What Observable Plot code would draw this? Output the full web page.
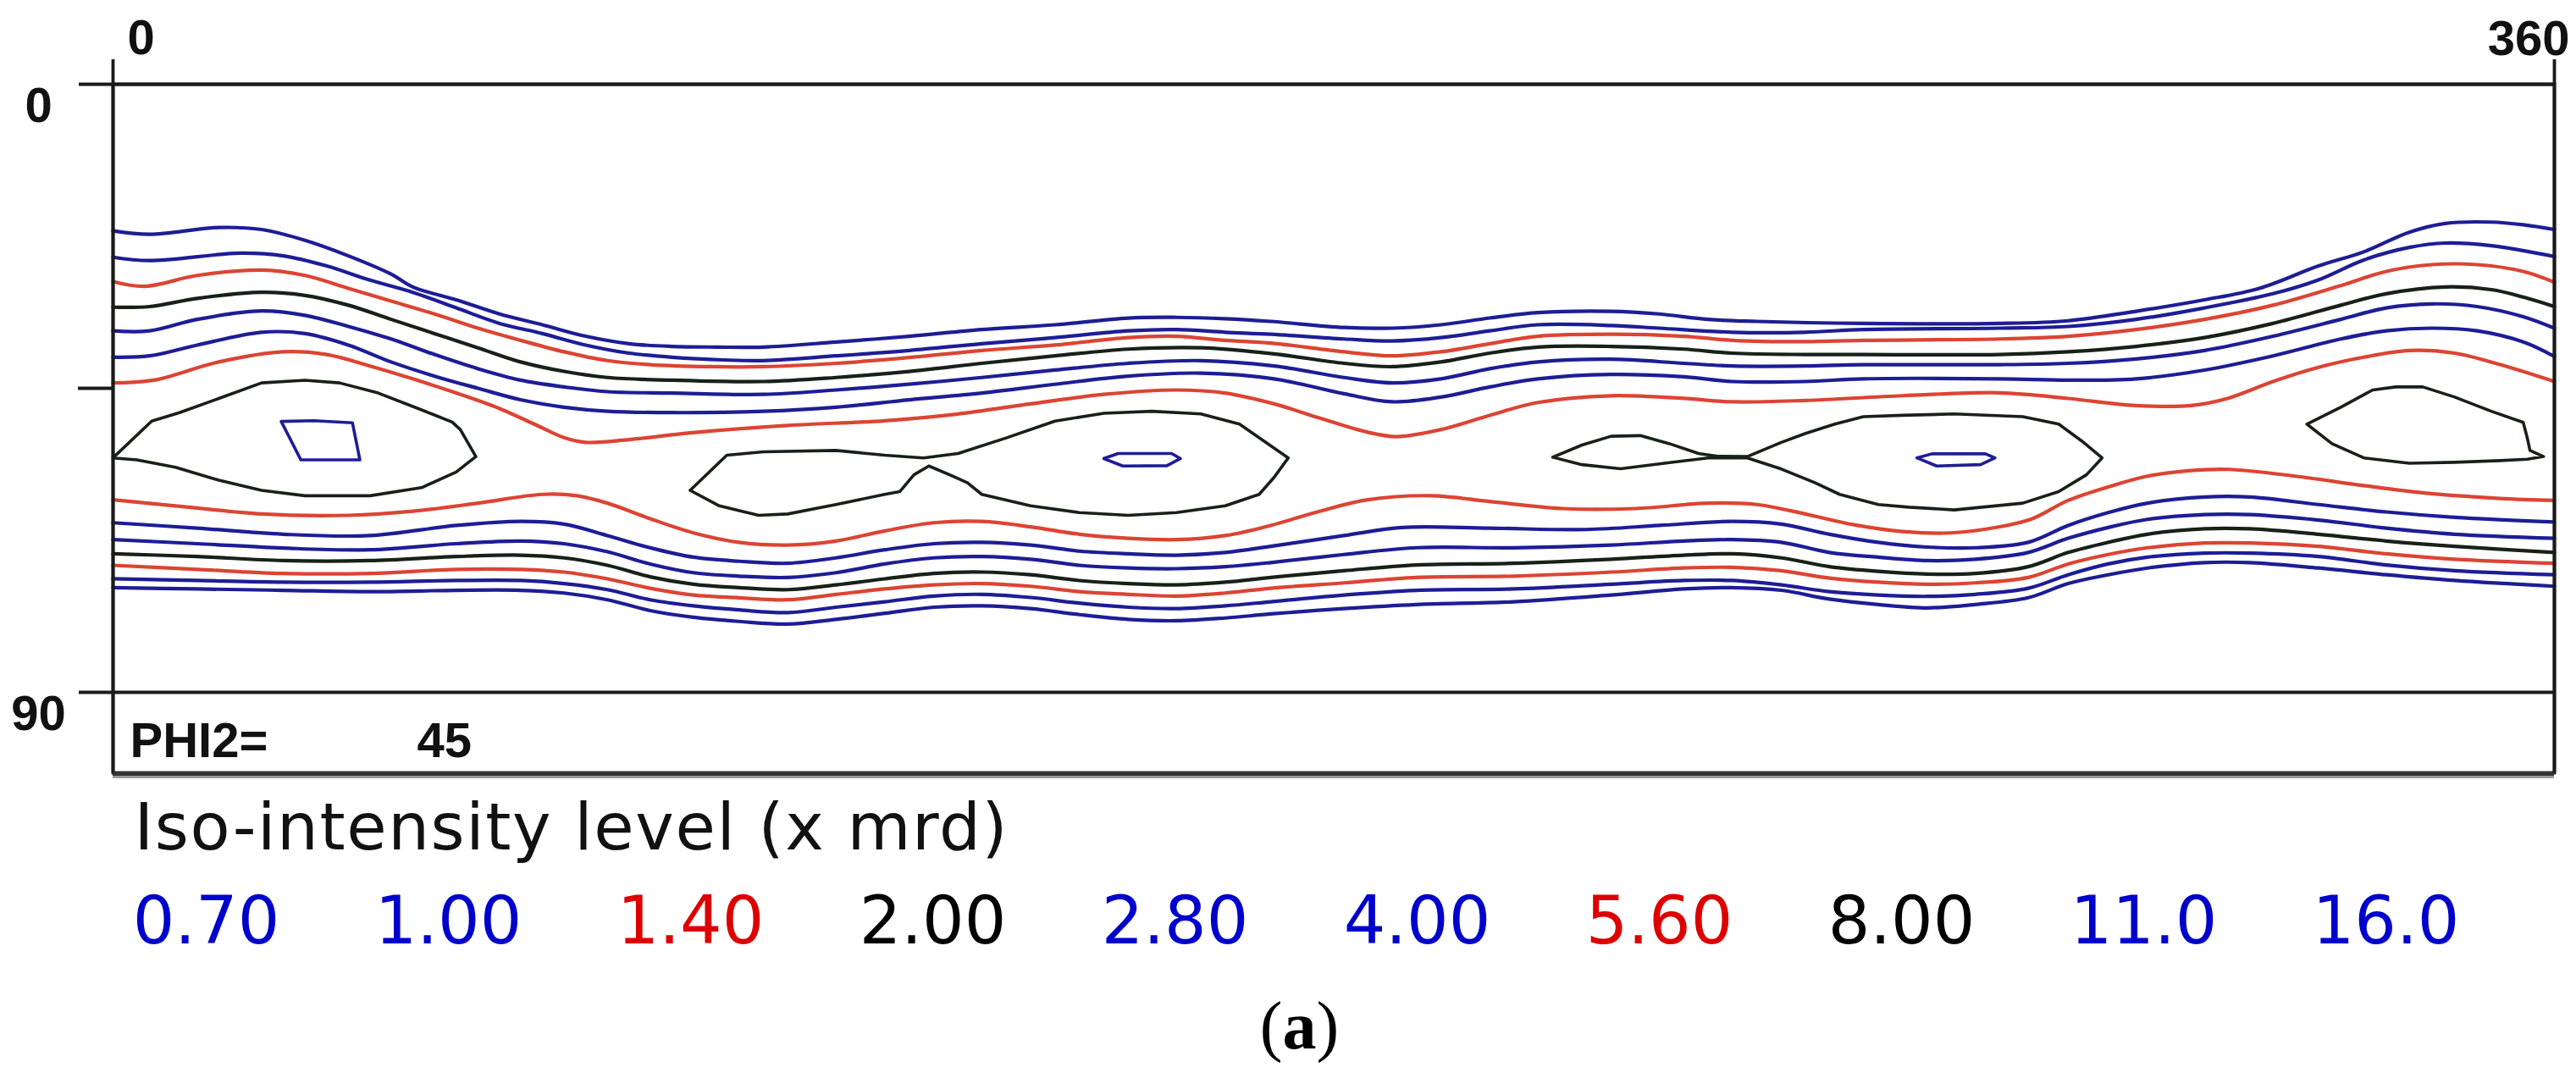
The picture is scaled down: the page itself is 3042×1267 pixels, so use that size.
<!DOCTYPE html>
<html>
<head>
<meta charset="utf-8">
<script src="https://cdn.jsdelivr.net/npm/d3@7"></script>
<script src="https://cdn.jsdelivr.net/npm/@observablehq/plot@0.6"></script>
<style>
  html, body { margin: 0; padding: 0; background: #ffffff; }
  #wrap { width: 3042px; height: 1267px; overflow: hidden; background: #fff; }
  #wrap svg { display: block; }
</style>
</head>
<body>
<div id="wrap"></div>
<script>
// ---------------- DATA ----------------
const levels = ["0.70", "1.00", "1.40", "2.00", "2.80", "4.00", "5.60", "8.00", "11.0", "16.0"];
const xTicks = [0, 360];
const xTickLabels = ["0", "360"];
const yTicks = [0, 45, 90];
const yTickLabels = ["0", "", "90"];
const phi2Label = "PHI2=";
const phi2Value = 45;
const legendTitle = "Iso-intensity level (x mrd)";
const panelLabel = "(a)";

// contour lines: [phi1 (deg), Phi (deg)]
const iso070Upper = [[0,21.7],[5.4,22.2],[15.6,21.2],[21.9,21.5],[28.3,23.1],[34.7,25.4],[41,28.1],[44.2,30.0],[50.6,31.9],[57,34.0],[63.3,35.6],[69.7,37.3],[76.1,38.4],[82.4,38.8],[89,38.9],[95.9,38.9],[106.6,38.15],[117.4,37.3],[128.1,36.3],[138.9,35.6],[149.7,34.6],[156.8,34.5],[164,34.7],[170.7,35.1],[181.5,36.0],[188.6,36.1],[195.8,35.6],[203,34.6],[210.1,33.8],[220.9,33.6],[228,34.0],[235.2,34.8],[242.4,35.1],[258,35.4],[278.2,35.4],[288.3,35.0],[298.3,33.6],[308.4,31.9],[316.5,30.2],[325.2,26.9],[331.9,24.8],[338.6,21.9],[343.9,20.6],[350.7,20.4],[355.4,20.8],[360,21.5]];
const iso100Upper = [[0,25.6],[5.4,26.1],[18.7,25.0],[25.1,25.4],[31.5,26.9],[37.9,29.0],[44.2,30.8],[50.6,33.1],[57,35.4],[63.3,36.9],[69.7,38.6],[76.1,39.8],[82.4,40.4],[90,40.8],[95.9,40.9],[106.6,40.2],[117.4,39.4],[128.1,38.4],[138.9,37.5],[149.7,36.5],[156.8,36.3],[164,36.7],[170.7,37.0],[181.5,37.7],[188.6,38.0],[195.8,37.5],[203,36.5],[210.1,35.6],[220.9,35.7],[228,36.1],[238.8,36.7],[249.5,36.7],[258.1,36.3],[278.2,36.1],[288.3,35.85],[298.3,34.8],[308.4,33.1],[318.5,31.0],[325.2,28.95],[331.9,26.0],[338.6,24.15],[343.9,23.5],[350.7,23.9],[360,25.5]];
const iso140Upper = [[0,29.2],[4.7,29.9],[12.4,28.3],[21.9,27.5],[28.3,28.3],[34.7,30.2],[41,32.1],[47.4,34.0],[53.8,36.1],[60.1,37.9],[66.5,39.6],[72.9,40.9],[79.2,41.5],[88,41.8],[95.9,41.8],[106.6,41.3],[117.4,40.45],[128.1,39.4],[138.9,38.6],[149.7,37.5],[156.8,37.3],[164,37.9],[170.7,38.3],[181.5,39.6],[188.6,40.2],[195.8,39.6],[203,38.4],[210.1,37.3],[220.9,37.0],[231.6,37.3],[238.8,37.9],[249.5,38.1],[258.1,37.9],[278.2,37.7],[288.3,37.3],[298.3,36.3],[308.4,34.8],[318.5,32.7],[328.5,29.8],[335.2,27.7],[341.9,26.7],[348.6,26.7],[355.4,27.7],[360,29.3]];
const iso200Upper = [[0,33.0],[5.4,32.9],[12.4,31.7],[21.9,30.8],[28.3,31.25],[34.7,32.7],[41,34.8],[47.4,36.9],[53.8,39.0],[60.1,41.1],[66.5,42.5],[72.9,43.4],[82.4,43.8],[95.9,44.0],[106.6,43.4],[117.4,42.5],[128.1,41.3],[138.9,40.2],[149.7,39.2],[160.4,39.0],[171.2,39.9],[181.5,41.3],[188.6,41.8],[195.8,41.1],[203,39.8],[210.1,38.9],[220.9,38.8],[231.6,39.2],[238.8,39.8],[249.5,40.0],[258.1,40.0],[278.2,40.0],[288.3,39.6],[298.3,38.8],[308.4,37.5],[318.5,35.4],[328.5,32.7],[335.2,31.0],[343.9,30.0],[350.7,30.4],[355.4,31.5],[360,32.9]];
const iso280Upper = [[0,36.5],[5.4,36.5],[12.4,34.8],[21.9,33.55],[28.3,34.2],[34.7,35.85],[41,37.7],[47.4,40.0],[53.8,42.1],[60.1,43.8],[66.5,44.8],[72.9,45.5],[82.4,45.7],[95.9,45.9],[106.6,45.25],[117.4,44.4],[128.1,43.4],[138.9,42.3],[149.7,41.3],[160.4,40.9],[171.2,41.7],[181.5,43.4],[188.6,44.2],[195.8,43.6],[203,42.1],[210.1,41.1],[220.9,40.7],[231.6,41.3],[238.8,41.7],[249.5,41.7],[258.1,41.5],[278.2,41.5],[288.3,41.3],[298.3,40.65],[308.4,39.4],[318.5,37.3],[328.5,34.8],[335.2,33.1],[341.9,32.5],[348.6,32.9],[355.4,34.4],[360,36.1]];
const iso400Upper = [[0,40.4],[5.4,40.2],[12.4,38.6],[21.9,36.7],[28.3,36.9],[34.7,38.6],[41,41.1],[47.4,43.2],[53.8,45.0],[60.1,46.7],[66.5,47.8],[72.9,48.4],[82.4,48.6],[95.9,48.4],[106.6,47.8],[117.4,46.7],[128.1,45.7],[138.9,44.4],[149.7,43.2],[160.4,42.75],[171.2,43.6],[181.5,45.8],[188.6,47.0],[195.8,46.3],[203,44.8],[210.1,43.6],[220.9,42.95],[231.6,43.3],[238.8,44.0],[249.5,44.0],[258.1,43.6],[278.2,43.6],[288.3,43.8],[298.3,43.6],[308.4,42.3],[318.5,40.2],[328.5,37.7],[335.2,36.5],[341.9,36.1],[348.6,36.5],[355.4,38.15],[360,40.3]];
const iso560Upper = [[0,44.2],[6,43.8],[15.6,41.1],[25.1,39.6],[31.5,40.0],[37.9,41.7],[44.2,43.6],[50.6,45.7],[57,48.0],[62.1,50.3],[66.5,52.3],[69.7,53.0],[76.1,52.6],[85.1,51.6],[99.5,50.5],[113.8,49.8],[124.6,48.8],[135.3,47.3],[146.1,45.9],[156.8,45.25],[164,45.7],[171.2,47.3],[177.9,49.4],[185,51.5],[189.3,52.15],[195.8,51.1],[203,49.0],[210.1,47.1],[220.9,46.1],[231.6,46.5],[238.8,47.0],[249.5,46.8],[263.9,46.1],[278.2,45.67],[288.3,46.5],[298.3,47.55],[306.4,47.55],[311.8,46.5],[318.5,44.0],[325.2,41.9],[331.9,40.4],[338.6,39.4],[345.3,39.8],[352,41.5],[360,44.0]];

const iso560Lower = [[0,61.5],[9.2,62.4],[21.9,63.6],[34.7,63.8],[44.2,63.2],[53.8,62.0],[63.3,60.7],[68.4,60.9],[72.9,62.0],[79.2,64.3],[85.6,66.4],[92.3,67.8],[99.5,68.2],[106.6,67.6],[113.8,66.1],[121,64.9],[128.1,64.7],[135.3,65.5],[142.5,66.6],[149.7,67.2],[156.8,67.4],[164,66.8],[170.7,65.3],[177.9,63.2],[185,61.5],[194.4,60.9],[203,61.75],[213.7,62.8],[224.5,62.8],[235.2,62.0],[242.4,62.2],[249.5,63.6],[256.7,65.2],[263.9,66.2],[271,66.4],[278.2,65.5],[283,64.3],[288.3,61.6],[294.2,59.6],[300,58.0],[306,57.2],[312,57.0],[321.8,58.0],[331.9,59.4],[341.9,60.6],[352,61.3],[360,61.6]];
const iso400Lower = [[0,64.9],[12.4,65.7],[25.1,66.6],[37.9,66.8],[50.6,65.3],[60.1,64.7],[66.5,65.1],[72.9,66.8],[79.2,68.6],[85.6,70.0],[92.3,70.6],[99.5,70.9],[106.6,70.1],[113.8,68.9],[121,68.0],[128.1,67.8],[135.3,68.2],[142.5,69.1],[149.7,69.5],[156.8,69.7],[164,69.3],[170.7,68.4],[181.5,66.8],[190.1,65.6],[203,65.7],[217.3,65.9],[228,65.3],[238.8,64.7],[246,65.1],[253.1,66.6],[260.3,67.8],[267.5,68.5],[274.6,68.6],[282.4,67.8],[288.3,65.3],[294.2,63.4],[300,62.0],[308.4,61.1],[315.1,61.1],[325.2,62.2],[335.2,63.3],[345.3,64.1],[360,64.8]];
const iso280Lower = [[0,67.4],[12.4,68.0],[25.1,68.65],[37.9,68.9],[50.6,68.0],[60.1,67.6],[66.5,68.0],[72.9,69.2],[79.2,71.0],[85.6,72.3],[92.3,72.8],[99.5,73.0],[106.6,72.3],[113.8,71.0],[121,70.1],[128.1,69.9],[135.3,70.3],[142.5,71.2],[149.7,71.6],[156.8,71.7],[164,71.4],[170.7,70.8],[181.5,69.6],[192.2,68.6],[206.5,68.6],[220.9,68.2],[231.6,67.6],[238.8,67.4],[246,67.8],[253.1,69.3],[260.3,70.0],[267.5,70.5],[274.6,70.3],[282.4,69.3],[288.3,67.2],[294.2,65.6],[300,64.4],[308.4,63.7],[315.1,63.7],[325.2,64.5],[335.2,65.7],[345.3,66.6],[360,67.2]];
const iso200Lower = [[0,69.5],[12.4,69.9],[25.1,70.5],[37.9,70.5],[50.6,69.9],[60.1,69.7],[66.5,70.1],[72.9,71.2],[79.2,72.9],[85.6,74.0],[92.3,74.5],[99.5,74.8],[106.6,74.1],[113.8,73.2],[121,72.4],[128.1,72.2],[135.3,72.6],[142.5,73.45],[149.7,73.9],[156.8,74.1],[164,73.7],[170.7,73.0],[181.5,72.0],[192.2,71.15],[206.5,70.9],[220.9,70.3],[231.6,69.7],[238.8,69.5],[246,70.1],[253.1,71.4],[260.3,72.1],[267.5,72.5],[274.6,72.4],[282.4,71.4],[288.3,69.3],[294.2,67.8],[300,66.6],[308.4,65.8],[315.1,65.8],[325.2,66.6],[335.2,67.6],[345.3,68.4],[360,69.3]];
const iso140Lower = [[0,71.2],[12.4,71.8],[25.1,72.4],[37.9,72.4],[50.6,71.8],[60.1,71.8],[66.5,72.2],[72.9,73.2],[79.2,74.6],[85.6,75.6],[92.3,76.0],[99.5,76.3],[106.6,75.5],[113.8,74.7],[121,74.1],[128.1,73.9],[135.3,74.3],[142.5,75.1],[149.7,75.5],[156.8,75.75],[164,75.3],[170.7,74.6],[181.5,73.8],[192.2,73.0],[206.5,72.8],[220.9,72.2],[231.6,71.6],[238.8,71.5],[246,72.0],[253.1,73.1],[260.3,73.7],[267.5,74.0],[274.6,73.8],[282.4,73.0],[288.3,71.0],[294.2,69.6],[300,68.6],[308.4,67.9],[315.1,67.9],[325.2,68.4],[335.2,69.5],[345.3,70.3],[360,70.9]];
const iso100Lower = [[0,73.2],[12.4,73.45],[25.1,73.7],[37.9,73.7],[50.6,73.45],[60.1,73.45],[66.5,73.9],[72.9,74.8],[79.2,76.3],[85.6,77.2],[92.3,77.8],[99.5,78.2],[106.6,77.4],[113.8,76.6],[121,75.75],[128.1,75.5],[135.3,75.96],[142.5,76.8],[149.7,77.4],[156.8,77.6],[164,77.2],[170.7,76.6],[181.5,75.6],[192.2,74.9],[206.5,74.7],[220.9,74.0],[231.6,73.45],[238.8,73.45],[246,74.1],[253.1,75.1],[260.3,75.6],[267.5,75.8],[274.6,75.5],[282.4,74.6],[288.3,72.6],[294.2,71.0],[300,70.0],[308.4,69.4],[315.1,69.4],[325.2,69.9],[335.2,71.15],[345.3,72.0],[360,72.6]];
const iso070Lower = [[0,74.5],[12.4,74.7],[25.1,74.9],[37.9,75.1],[50.6,74.9],[60.1,74.9],[66.5,75.3],[72.9,76.3],[79.2,77.9],[85.6,78.9],[92.3,79.5],[99.5,79.9],[106.6,79.2],[113.8,78.3],[121,77.4],[128.1,77.2],[135.3,77.6],[142.5,78.5],[149.7,79.2],[156.8,79.4],[164,79.0],[170.7,78.4],[181.5,77.6],[192.2,77.0],[206.5,76.6],[220.9,75.6],[231.6,74.7],[238.8,74.5],[246,74.9],[253.1,76.2],[260.3,77.0],[267.5,77.5],[274.6,77.0],[282.4,76.0],[288.3,73.9],[294.2,72.6],[300,71.6],[308.4,70.8],[315.1,70.8],[325.2,71.6],[335.2,72.6],[345.3,73.45],[360,74.3]];

const iso800LoopA = [[0,55.3],[5.7,49.85],[9.8,48.6],[15.6,46.5],[21.9,44.2],[28.3,43.8],[33.4,44.2],[39.1,45.7],[45.5,48.2],[50,50.0],[51.2,51.1],[53.5,55.1],[50.6,57.4],[45.5,59.7],[37.9,60.9],[28.3,60.9],[21.9,60.1],[15.6,58.6],[9.2,56.7],[3.5,55.6],[0,55.3]];
const iso800LoopB = [[85.1,60.1],[90.5,54.9],[95.9,54.4],[106.6,54.2],[113.8,54.9],[119.5,55.3],[124.6,54.65],[131.7,52.35],[138.9,49.85],[146.1,48.7],[153.2,48.4],[160.4,48.8],[166.1,50.3],[173.3,55.3],[171.2,58.2],[169,60.7],[164,62.4],[156.8,63.4],[149.7,63.8],[142.5,63.4],[135.3,62.4],[128.1,60.7],[126,59.0],[123.8,58.0],[120.3,56.5],[118.1,57.8],[116,60.3],[113.8,60.7],[106.6,62.2],[99.5,63.6],[95.2,63.8],[89.4,62.4],[85.1,60.1]];
const iso800LoopC = [[212.3,55.2],[216.6,53.4],[220.9,52.1],[225.2,52.0],[229.5,53.2],[233.8,54.65],[236.6,55.06],[241.0,55.1],[246.0,53.0],[249.5,51.7],[253.9,50.3],[258.1,49.2],[263.9,49.0],[271.5,48.8],[281.6,49.2],[286.9,50.3],[290.3,52.8],[293.3,55.3],[291.0,57.8],[286.9,60.3],[281.6,62.0],[271.5,63.0],[264.8,62.6],[260.3,62.2],[254.6,60.7],[251.0,59.0],[246.0,56.95],[241.0,55.3],[235.2,55.3],[229.5,56.0],[222.3,56.9],[216.6,56.3],[212.3,55.2]];
const iso800LoopD = [[323.5,50.3],[328.5,47.8],[333.2,45.25],[336.6,44.8],[340.6,44.8],[345.3,46.3],[350.7,48.4],[355.4,50.05],[356.0,52.35],[356.4,54.2],[358.4,55.1],[356.0,55.5],[352.0,55.7],[345.3,55.95],[338.6,56.1],[331.9,55.3],[327.2,53.2],[323.5,50.3]];
const iso1100LoopA = [[24.8,49.9],[29.6,49.8],[35.3,50.1],[36.4,55.6],[27.7,55.6],[24.8,49.9]];
const iso1100LoopB = [[146.1,55.4],[148.2,54.65],[156.1,54.65],[157.4,55.4],[155.4,56.45],[148.9,56.5],[146.1,55.4]];
const iso1100LoopC = [[266,55.3],[268.2,54.7],[276.1,54.7],[277.5,55.3],[275.4,56.3],[268.9,56.5],[266,55.3]];

// ---------------- STYLE ----------------
const lineColors   = ["#1d1d96", "#1d1d96", "#dc4433", "#182118", "#1d1d96", "#1d1d96", "#dc4433", "#182118", "#1d1d96", "#1d1d96"];
const legendColors = ["#0000cc", "#0000cc", "#dd0000", "#000000", "#0000cc", "#0000cc", "#dd0000", "#000000", "#0000cc", "#0000cc"];
const frameColor = "#1a1a1a";

// ---------------- TABLE ----------------
const contours = [
  {level: "0.70", id: "070u", pts: iso070Upper, loop: false},
  {level: "1.00", id: "100u", pts: iso100Upper, loop: false},
  {level: "1.40", id: "140u", pts: iso140Upper, loop: false},
  {level: "2.00", id: "200u", pts: iso200Upper, loop: false},
  {level: "2.80", id: "280u", pts: iso280Upper, loop: false},
  {level: "4.00", id: "400u", pts: iso400Upper, loop: false},
  {level: "5.60", id: "560u", pts: iso560Upper, loop: false},
  {level: "5.60", id: "560l", pts: iso560Lower, loop: false},
  {level: "4.00", id: "400l", pts: iso400Lower, loop: false},
  {level: "2.80", id: "280l", pts: iso280Lower, loop: false},
  {level: "2.00", id: "200l", pts: iso200Lower, loop: false},
  {level: "1.40", id: "140l", pts: iso140Lower, loop: false},
  {level: "1.00", id: "100l", pts: iso100Lower, loop: false},
  {level: "0.70", id: "070l", pts: iso070Lower, loop: false},
  {level: "8.00", id: "800a", pts: iso800LoopA, loop: true},
  {level: "8.00", id: "800b", pts: iso800LoopB, loop: true},
  {level: "8.00", id: "800c", pts: iso800LoopC, loop: true},
  {level: "8.00", id: "800d", pts: iso800LoopD, loop: true},
  {level: "11.0", id: "110a", pts: iso1100LoopA, loop: true},
  {level: "11.0", id: "110b", pts: iso1100LoopB, loop: true},
  {level: "11.0", id: "110c", pts: iso1100LoopC, loop: true}
];
const rows = contours.flatMap(c => c.pts.map(([x, y]) => ({level: c.level, id: c.id, loop: c.loop, x, y})));
const openRows = rows.filter(d => !d.loop);
const loopRows = rows.filter(d => d.loop);

const yLabelRows = yTicks.map((v, i) => ({v, label: yTickLabels[i]})).filter(d => d.label !== "");

const axisFont = {fontFamily: "Liberation Sans, Arial, sans-serif", fontWeight: "bold", fontSize: 58, fill: "#111"};

const chart = Plot.plot({
  width: 3042,
  height: 935,
  marginLeft: 133,
  marginRight: 26,
  marginTop: 99,
  marginBottom: 23,
  x: {domain: [0, 360], axis: null},
  y: {domain: [0, 90], range: [99, 817], axis: null},
  color: {type: "ordinal", domain: levels, range: lineColors},
  style: {background: "#ffffff", overflow: "visible"},
  marks: [
    Plot.line(openRows, {x: "x", y: "y", z: "id", stroke: "level", strokeWidth: 4.2, curve: "catmull-rom"}),
    Plot.line(loopRows, {x: "x", y: "y", z: "id", stroke: "level", strokeWidth: 3.6, curve: "linear"}),
    Plot.frame({stroke: frameColor, strokeWidth: 3.8}),
    Plot.ruleY([yTicks[0], yTicks[2]], {stroke: frameColor, strokeWidth: 3.8, insetLeft: -40}),
    Plot.ruleY([yTicks[2]], {stroke: "#9a9a9a", strokeWidth: 3, dy: 100}),
    Plot.ruleY([yTicks[2]], {stroke: "#333333", strokeWidth: 5, dy: 96}),
    Plot.ruleY([yTicks[1]], {x1: xTicks[0], x2: xTicks[0], stroke: frameColor, strokeWidth: 3.8, insetLeft: -41}),
    Plot.ruleX(xTicks, {stroke: frameColor, strokeWidth: 3.8, insetTop: -29}),
    Plot.text(yLabelRows, {y: "v", text: "label", frameAnchor: "left", dx: -88, dy: 44, textAnchor: "middle", lineAnchor: "bottom", ...axisFont}),
    Plot.text([0], {x: () => xTicks[0], text: () => xTickLabels[0], frameAnchor: "top", dx: 17, dy: -36, textAnchor: "start", lineAnchor: "bottom", ...axisFont}),
    Plot.text([1], {x: () => xTicks[1], text: () => xTickLabels[1], frameAnchor: "top", dx: 18, dy: -35, textAnchor: "end", lineAnchor: "bottom", ...axisFont}),
    Plot.text([phi2Label], {text: d => d, frameAnchor: "bottom-left", dx: 20, dy: -19, textAnchor: "start", lineAnchor: "bottom", ...axisFont}),
    Plot.text([phi2Value], {text: d => String(d), frameAnchor: "bottom-left", dx: 359, dy: -19, textAnchor: "start", lineAnchor: "bottom", ...axisFont})
  ]
});

const legend = Plot.plot({
  width: 3042,
  height: 332,
  margin: 0,
  x: {type: "band", domain: levels, range: [99, 2960], padding: 0, axis: null},
  color: {type: "ordinal", domain: levels, range: legendColors},
  style: {background: "#ffffff", overflow: "visible"},
  marks: [
    Plot.text([legendTitle], {text: d => d, frameAnchor: "top-left", dx: 158, dy: 67, textAnchor: "start", lineAnchor: "bottom",
      fontFamily: "DejaVu Sans, Verdana, sans-serif", fontSize: 77, fill: "#111"}),
    Plot.text(levels, {x: d => d, text: d => d, fill: d => d, frameAnchor: "top", dy: 178, textAnchor: "middle", lineAnchor: "bottom",
      fontFamily: "DejaVu Sans, Verdana, sans-serif", fontSize: 78}),
    Plot.text([panelLabel], {text: d => d, frameAnchor: "top-left", dx: 1534, dy: 302, textAnchor: "middle", lineAnchor: "bottom",
      fontFamily: "Liberation Serif, Times New Roman, serif", fontSize: 80, fill: "#000"})
  ]
});

const wrap = document.getElementById("wrap");
wrap.appendChild(chart);
wrap.appendChild(legend);

// small typographic touches
legend.querySelectorAll("text").forEach(t => {
  if (t.textContent === legendTitle) t.setAttribute("letter-spacing", "1.6");
  if (t.textContent === panelLabel) {
    t.textContent = "";
    const ns = "http://www.w3.org/2000/svg";
    const a = document.createElementNS(ns, "tspan"); a.textContent = "(";
    const b = document.createElementNS(ns, "tspan"); b.textContent = "a"; b.setAttribute("font-weight", "bold");
    const c = document.createElementNS(ns, "tspan"); c.textContent = ")";
    t.appendChild(a); t.appendChild(b); t.appendChild(c);
  }
});
</script>
</body>
</html>
